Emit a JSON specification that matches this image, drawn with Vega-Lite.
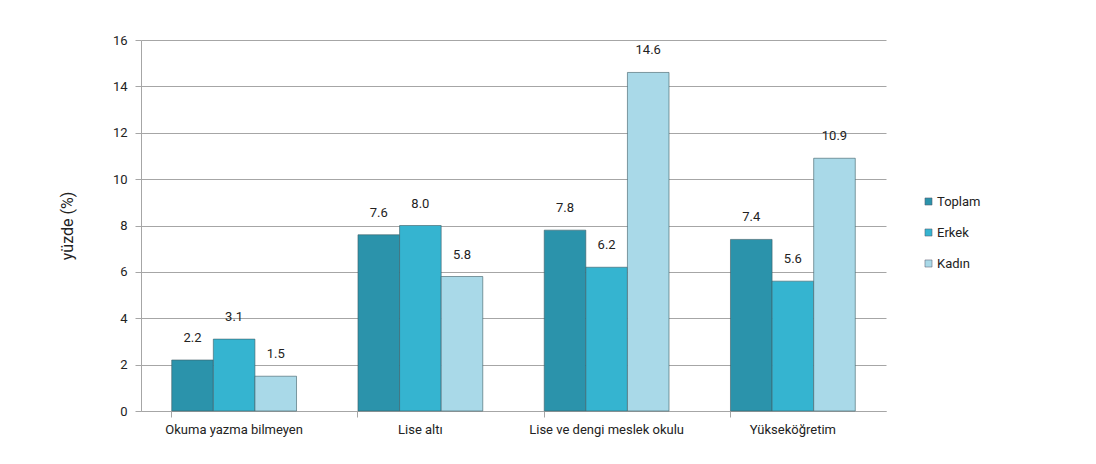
{
  "$schema": "https://vega.github.io/schema/vega-lite/v6.json",
  "width": 745,
  "height": 371,
  "autosize": {"type": "none"},
  "padding": {"left": 141, "top": 40, "right": 210, "bottom": 53},
  "background": "white",
  "config": {
    "font": "Roboto",
    "view": {"stroke": null}
  },
  "data": {
    "values": [
      {"kategori": "Okuma yazma bilmeyen", "grup": "Toplam", "deger": 2.2},
      {"kategori": "Okuma yazma bilmeyen", "grup": "Erkek", "deger": 3.1},
      {"kategori": "Okuma yazma bilmeyen", "grup": "Kadın", "deger": 1.5},
      {"kategori": "Lise altı", "grup": "Toplam", "deger": 7.6},
      {"kategori": "Lise altı", "grup": "Erkek", "deger": 8.0},
      {"kategori": "Lise altı", "grup": "Kadın", "deger": 5.8},
      {"kategori": "Lise ve dengi meslek okulu", "grup": "Toplam", "deger": 7.8},
      {"kategori": "Lise ve dengi meslek okulu", "grup": "Erkek", "deger": 6.2},
      {"kategori": "Lise ve dengi meslek okulu", "grup": "Kadın", "deger": 14.6},
      {"kategori": "Yükseköğretim", "grup": "Toplam", "deger": 7.4},
      {"kategori": "Yükseköğretim", "grup": "Erkek", "deger": 5.6},
      {"kategori": "Yükseköğretim", "grup": "Kadın", "deger": 10.9}
    ]
  },
  "encoding": {
    "x": {
      "field": "kategori",
      "type": "nominal",
      "sort": null,
      "scale": {"paddingInner": 0.33, "paddingOuter": 0.165},
      "axis": {
        "title": null,
        "labelAngle": 0,
        "labelFontSize": 13,
        "labelColor": "#222",
        "labelPadding": 6,
        "bandPosition": 0,
        "tickSize": 6,
        "tickColor": "#a6a6a6",
        "domainColor": "#a6a6a6",
        "grid": false
      }
    },
    "xOffset": {"field": "grup", "type": "nominal", "sort": ["Toplam", "Erkek", "Kadın"]},
    "y": {
      "field": "deger",
      "type": "quantitative",
      "scale": {"domain": [0, 16]},
      "axis": {
        "title": "yüzde (%)",
        "titleFontSize": 16,
        "titleFontWeight": "normal",
        "titleColor": "#222",
        "titlePadding": 37,
        "values": [0, 2, 4, 6, 8, 10, 12, 14, 16],
        "labelFontSize": 13,
        "labelColor": "#222",
        "labelPadding": 8,
        "tickSize": 6,
        "tickColor": "#a6a6a6",
        "domainColor": "#a6a6a6",
        "gridColor": "#a6a6a6",
        "grid": true
      }
    }
  },
  "layer": [
    {
      "mark": {"type": "bar", "stroke": "#3d5d66", "strokeWidth": 1, "strokeOpacity": 0.6},
      "encoding": {
        "color": {
          "field": "grup",
          "type": "nominal",
          "sort": ["Toplam", "Erkek", "Kadın"],
          "scale": {"domain": ["Toplam", "Erkek", "Kadın"], "range": ["#2b93ab", "#35b4d0", "#a9d9e8"]},
          "legend": {
            "title": null,
            "orient": "none",
            "legendX": 781,
            "legendY": 155,
            "symbolType": "square",
            "symbolSize": 50,
            "symbolStrokeColor": "#556",
            "symbolStrokeWidth": 0.5,
            "labelFontSize": 13,
            "labelColor": "#222",
            "labelOffset": 2,
            "rowPadding": 17
          }
        }
      }
    },
    {
      "mark": {"type": "text", "dy": -22, "fontSize": 13, "color": "#222"},
      "encoding": {
        "text": {"field": "deger", "type": "quantitative", "format": ".1f"}
      }
    }
  ]
}
